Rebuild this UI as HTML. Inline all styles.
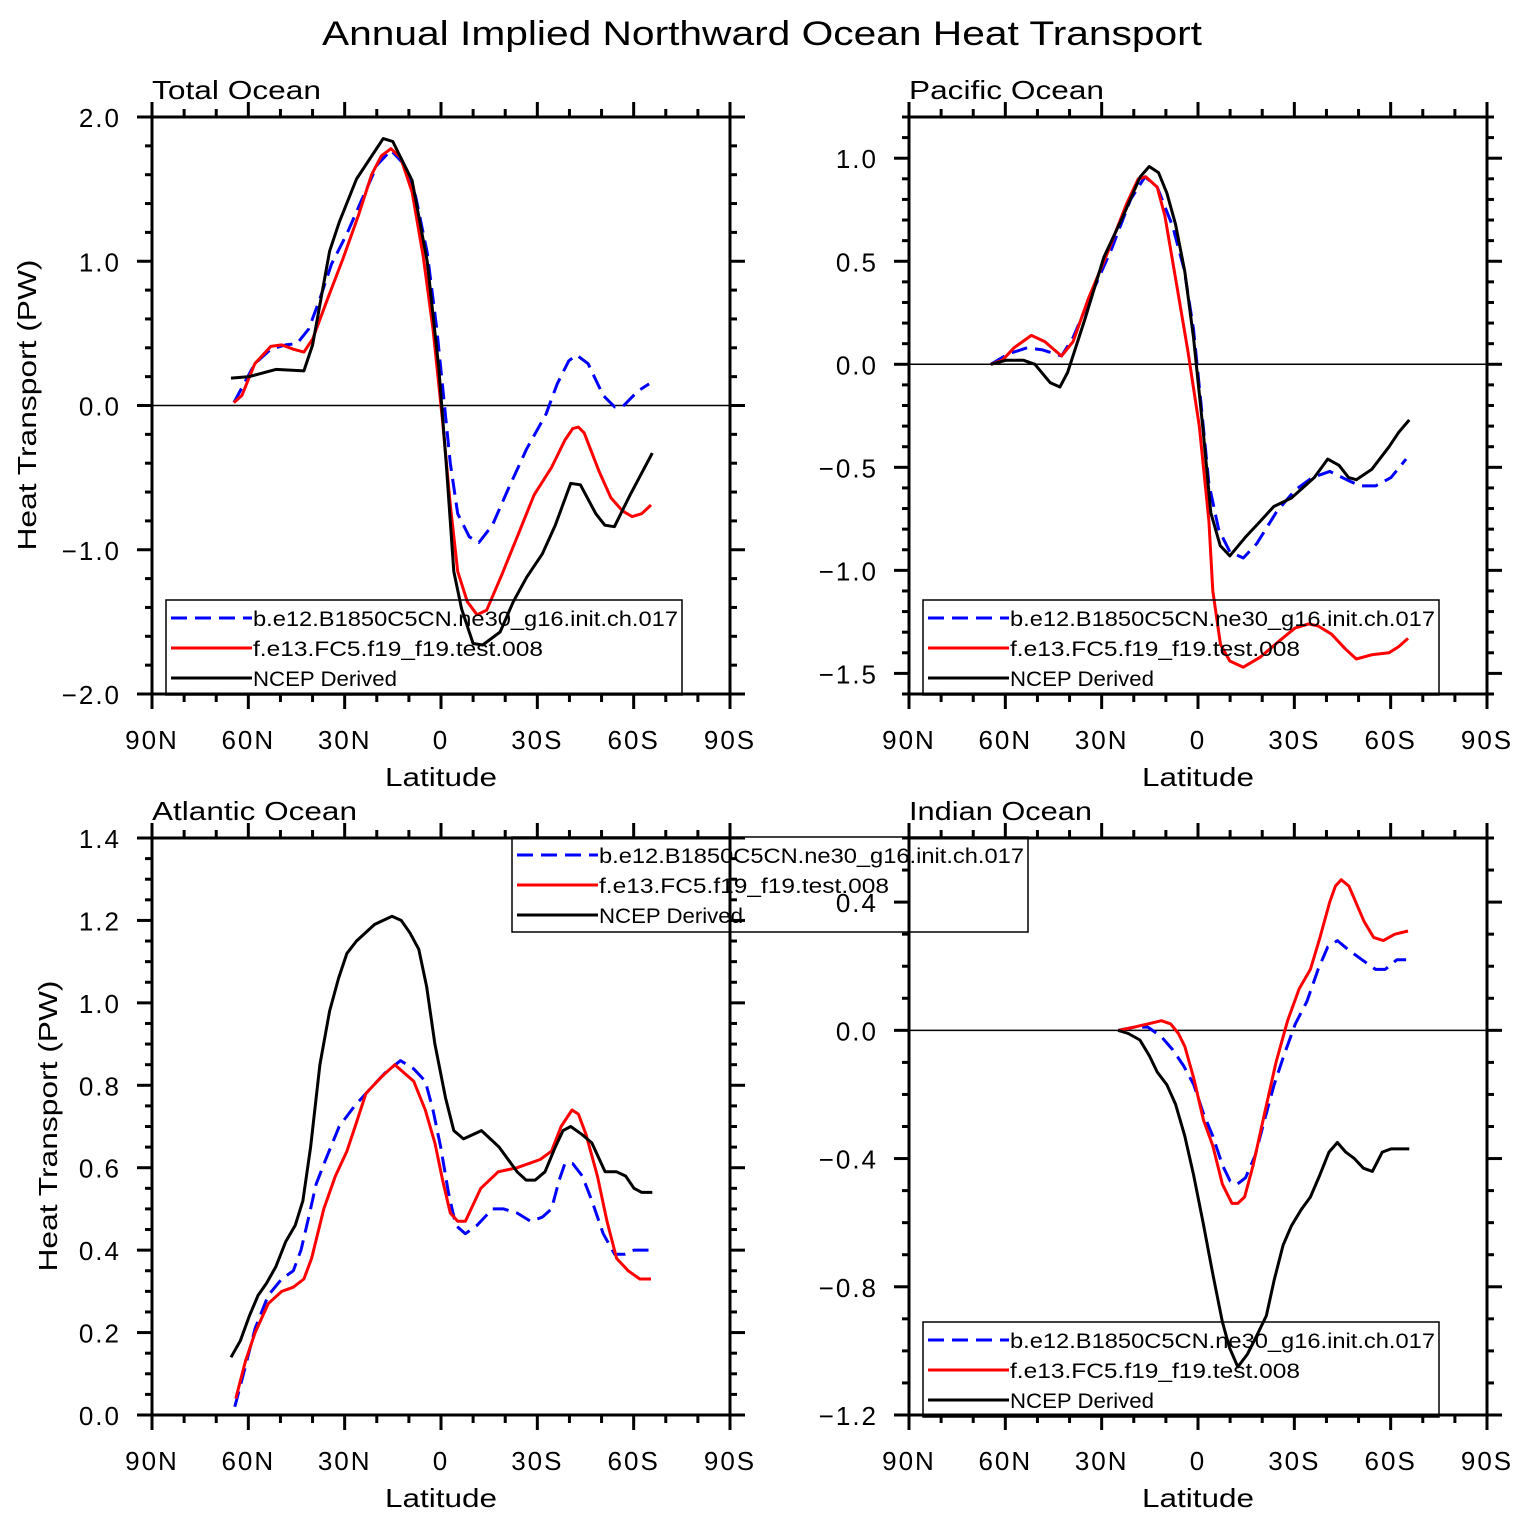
<!DOCTYPE html>
<html><head><meta charset="utf-8"><style>
html,body{margin:0;padding:0;background:#fff}
svg{display:block;font-family:"Liberation Sans",sans-serif}
</style></head><body>
<svg id="chart" width="1524" height="1527" viewBox="0 0 1524 1527" xmlns="http://www.w3.org/2000/svg">
<rect width="1524" height="1527" fill="#fff"/>
<text x="322" y="45" font-size="34" textLength="880" lengthAdjust="spacingAndGlyphs">Annual  Implied  Northward  Ocean  Heat  Transport</text>
</svg>
<script>
// ---------- data ----------
const xTickLabels = ["90N","60N","30N","0","30S","60S","90S"];
const xTickLats = [90,60,30,0,-30,-60,-90];
const seriesNames = ["b.e12.B1850C5CN.ne30_g16.init.ch.017","f.e13.FC5.f19_f19.test.008","NCEP  Derived"];

// Total Ocean
const totBlueLat = [64.5,58,53,48.4,44.8,41.2,37.7,34.1,29.3,24.6,19.8,15.6,11.4,7.9,4.3,1.3,-1.1,-2.9,-5.2,-8.8,-11.8,-16,-20.7,-26.7,-32.7,-36.2,-39.8,-42.2,-45.8,-50.5,-54.1,-56.5,-61.3,-64.8];
const totBlueVal = [0.02,0.29,0.39,0.42,0.43,0.53,0.74,0.98,1.19,1.43,1.67,1.77,1.67,1.45,1.06,0.53,0,-0.4,-0.75,-0.91,-0.95,-0.83,-0.59,-0.30,-0.06,0.15,0.31,0.35,0.29,0.07,-0.01,-0.01,0.10,0.15];
const totRedLat = [64.5,62,58,53,49.6,46,42.7,40,35.3,30.5,25.7,21.6,18.6,15.6,12.6,9,5.5,2.5,-0.5,-2.9,-5.2,-8.2,-11.2,-14.2,-19,-24.3,-29,-34.4,-38.6,-41,-42.8,-44.6,-49.3,-52.9,-56.5,-59.5,-62.5,-65.4];
const totRedVal = [0.02,0.07,0.29,0.41,0.42,0.39,0.37,0.46,0.74,1.02,1.32,1.6,1.73,1.78,1.72,1.48,1.03,0.53,-0.11,-0.69,-1.15,-1.36,-1.45,-1.42,-1.17,-0.88,-0.62,-0.43,-0.24,-0.16,-0.15,-0.19,-0.46,-0.64,-0.73,-0.77,-0.75,-0.69];
const totBlackLat = [65.4,59.7,51.4,42.7,40,34.7,31.7,26.3,18,15,9,4.3,0.7,-1.7,-4,-6.4,-10,-13,-18.4,-22.5,-26.7,-31.5,-35.6,-40.4,-43.4,-48.2,-51,-54,-58.9,-65.8];
const totBlackVal = [0.19,0.20,0.25,0.24,0.42,1.07,1.27,1.57,1.85,1.83,1.56,1.0,0.26,-0.43,-1.15,-1.41,-1.65,-1.66,-1.57,-1.36,-1.19,-1.03,-0.83,-0.54,-0.55,-0.75,-0.83,-0.84,-0.62,-0.33];

// Pacific Ocean
const pacBlueLat = [64.5,59.2,53.2,48.4,42.5,38.9,32.9,26.9,21,16.5,12.7,7.9,4.3,1.4,-1.0,-3.4,-6.4,-9.9,-14.1,-18.3,-24.3,-30.2,-35.6,-41,-46.3,-50.5,-55.3,-60.1,-64.8];
const pacBlueVal = [0,0.05,0.08,0.07,0.04,0.13,0.35,0.56,0.80,0.91,0.86,0.67,0.46,0.17,-0.20,-0.58,-0.80,-0.91,-0.94,-0.87,-0.72,-0.61,-0.55,-0.52,-0.56,-0.59,-0.59,-0.55,-0.46];
const pacRedLat = [64.5,60.9,57.3,51.9,47.7,42.5,38.9,34.1,28.2,22.2,18.6,16.3,12.7,10.3,6.7,3.2,-0.4,-3.4,-4.6,-7,-9.9,-14.1,-19.5,-25.5,-30.2,-34.4,-37.4,-41.6,-45.8,-49.3,-54.1,-59.5,-62.5,-65.4];
const pacRedVal = [0,0.02,0.08,0.14,0.11,0.04,0.11,0.32,0.54,0.78,0.90,0.91,0.86,0.72,0.39,0.07,-0.30,-0.76,-1.10,-1.36,-1.44,-1.47,-1.42,-1.34,-1.28,-1.26,-1.27,-1.31,-1.38,-1.43,-1.41,-1.40,-1.37,-1.33];
const pacBlackLat = [64.5,59.7,54.4,50.8,46,43,40.6,35.2,29.3,23.3,18,15.2,12.3,9.7,7,4.1,1.4,-1.6,-4,-6.9,-9.9,-14.7,-18.9,-23.6,-29,-36.2,-40.4,-43.9,-46.9,-49.3,-54.1,-59.5,-62.5,-65.8];
const pacBlackVal = [0,0.02,0.02,0,-0.09,-0.11,-0.04,0.22,0.52,0.72,0.91,0.96,0.93,0.83,0.68,0.45,0.13,-0.32,-0.72,-0.88,-0.93,-0.84,-0.77,-0.69,-0.65,-0.55,-0.46,-0.49,-0.55,-0.56,-0.51,-0.40,-0.33,-0.27];

// Atlantic Ocean
const atlBlueLat = [64.2,61.5,57.9,53.8,49.6,46,43.6,41.2,38.9,35.9,31.7,26.9,22.2,17.4,12.6,8.5,4.9,2.5,0.1,-2.3,-4.6,-7.6,-11.2,-16,-19.5,-23.7,-27.9,-31.5,-34.4,-36.8,-38.6,-41,-44,-47,-50.5,-54.1,-57.1,-60.1,-64.8];
const atlBlueVal = [0.02,0.10,0.21,0.29,0.33,0.35,0.40,0.48,0.56,0.62,0.70,0.75,0.79,0.83,0.86,0.84,0.81,0.74,0.65,0.54,0.46,0.44,0.46,0.50,0.50,0.49,0.47,0.48,0.50,0.57,0.61,0.61,0.58,0.52,0.44,0.39,0.39,0.40,0.40];
const atlRedLat = [63.9,60.9,57.9,53.8,49.6,46,42.7,40.3,36.5,32.9,29.3,26.3,23.4,18.6,14.4,8.5,4.9,1.9,-0.5,-2.9,-5.2,-7.6,-12.4,-17.8,-23.7,-30.9,-34.4,-37.4,-40.8,-42.8,-45.2,-48.7,-51.7,-54.7,-58.3,-61.9,-65.4];
const atlRedVal = [0.04,0.13,0.20,0.27,0.30,0.31,0.33,0.38,0.50,0.58,0.64,0.71,0.78,0.82,0.85,0.81,0.74,0.66,0.57,0.49,0.47,0.47,0.55,0.59,0.60,0.62,0.64,0.70,0.74,0.73,0.68,0.58,0.47,0.38,0.35,0.33,0.33];
const atlBlackLat = [65.4,62.5,59.7,57,54.3,51.4,48.4,45.4,43,40.6,37.7,34.7,31.9,29.3,26.3,20.7,15.3,12.4,9.7,6.9,4.5,1.9,-1.4,-4,-7,-12.6,-18.1,-23.7,-26.5,-29.3,-32.4,-35.6,-38,-40.4,-44,-47,-51.1,-54.7,-57.5,-60.1,-62.5,-65.8];
const atlBlackVal = [0.14,0.18,0.24,0.29,0.32,0.36,0.42,0.46,0.52,0.65,0.85,0.98,1.06,1.12,1.15,1.19,1.21,1.20,1.17,1.13,1.04,0.90,0.77,0.69,0.67,0.69,0.65,0.59,0.57,0.57,0.59,0.65,0.69,0.70,0.68,0.66,0.59,0.59,0.58,0.55,0.54,0.54];

// Indian Ocean
const indBlueLat = [24.8,19.8,15.6,11.4,7.9,4.5,1.3,-1.7,-4.6,-7.6,-10,-12.2,-14.8,-17.8,-20.7,-23.7,-26.7,-30.3,-33.9,-37.4,-40.4,-43.4,-47,-51.1,-55.3,-58.3,-61.9,-64.8];
const indBlueVal = [0,0.01,0.01,-0.02,-0.06,-0.11,-0.17,-0.26,-0.33,-0.42,-0.47,-0.48,-0.46,-0.39,-0.28,-0.17,-0.08,0.02,0.09,0.19,0.26,0.28,0.25,0.22,0.19,0.19,0.22,0.22];
const indRedLat = [24.8,19.8,15.6,11.4,8.5,6.1,4.1,1.3,-1.7,-4.6,-7.6,-10.6,-12.4,-14.5,-17.2,-20.7,-24.3,-27.9,-31.5,-35,-38,-41,-42.8,-44.6,-47,-51.7,-54.7,-57.7,-61.3,-65.4];
const indRedVal = [0,0.01,0.02,0.03,0.02,-0.01,-0.05,-0.15,-0.28,-0.36,-0.48,-0.54,-0.54,-0.52,-0.42,-0.26,-0.10,0.03,0.13,0.19,0.29,0.40,0.45,0.47,0.45,0.34,0.29,0.28,0.30,0.31];
const indBlackLat = [24.9,21.7,18.1,15.1,12.7,9.7,7,4.1,1.4,-1.6,-4.6,-7.6,-9.8,-12.4,-15.4,-18.4,-21.3,-23.7,-26.5,-29.1,-32.1,-35,-38,-40.8,-43.4,-46,-48.7,-51.5,-54.3,-57.4,-60.1,-65.8];
const indBlackVal = [0,-0.01,-0.03,-0.08,-0.13,-0.17,-0.23,-0.33,-0.45,-0.60,-0.76,-0.91,-0.99,-1.05,-1.01,-0.95,-0.89,-0.78,-0.67,-0.61,-0.56,-0.52,-0.45,-0.38,-0.35,-0.38,-0.40,-0.43,-0.44,-0.38,-0.37,-0.37];

// y-axis tick labels per panel
const totYTicks = ["\u22122.0","\u22121.0","0.0","1.0","2.0"];
const pacYTicks = ["\u22121.5","\u22121.0","\u22120.5","0.0","0.5","1.0"];
const atlYTicks = ["0.0","0.2","0.4","0.6","0.8","1.0","1.2","1.4"];
const indYTicks = ["\u22121.2","\u22120.8","\u22120.4","0.0","0.4"];

// ---------- drawing ----------
const NS="http://www.w3.org/2000/svg";
const svg=document.getElementById('chart');
function mk(tag,attrs,parent){const e=document.createElementNS(NS,tag);for(const k in attrs)e.setAttribute(k,attrs[k]);(parent||svg).appendChild(e);return e;}

const panels=[
 {key:'total',title:'Total  Ocean',tw:169,x0:152,x1:730,y0:117,y1:694,ymin:-2,ymax:2,major:1,minor:0.2,ticks:totYTicks,ytitle:true,ytx:27,zero:true,
  series:[[totBlueLat,totBlueVal],[totRedLat,totRedVal],[totBlackLat,totBlackVal]],leg:[166,600]},
 {key:'pacific',title:'Pacific  Ocean',tw:195,x0:909,x1:1487,y0:117,y1:694,ymin:-1.6,ymax:1.2,major:0.5,minor:0.1,ticks:pacYTicks,ytitle:false,zero:true,
  series:[[pacBlueLat,pacBlueVal],[pacRedLat,pacRedVal],[pacBlackLat,pacBlackVal]],leg:[923,600]},
 {key:'atlantic',title:'Atlantic  Ocean',tw:205,x0:152,x1:730,y0:838,y1:1415,ymin:0,ymax:1.4,major:0.2,minor:0.05,ticks:atlYTicks,ytitle:true,ytx:48,zero:false,
  series:[[atlBlueLat,atlBlueVal],[atlRedLat,atlRedVal],[atlBlackLat,atlBlackVal]],leg:[512,837]},
 {key:'indian',title:'Indian  Ocean',tw:183,x0:909,x1:1487,y0:838,y1:1415,ymin:-1.2,ymax:0.6,major:0.4,minor:0.1,ticks:indYTicks,ytitle:false,zero:true,
  series:[[indBlueLat,indBlueVal],[indRedLat,indRedVal],[indBlackLat,indBlackVal]],leg:[923,1322]}
];
const colors=['#0000ff','#ff0000','#000000'];
const seriesKeys=['blue-model','red-model','ncep'];
const legW=[425,290,144];

panels.forEach(p=>{
 const g=mk('g',{});
 
 
 const xs=lat=>p.x0+(90-lat)/180*(p.x1-p.x0);
 const ys=v=>p.y1-(v-p.ymin)/(p.ymax-p.ymin)*(p.y1-p.y0);
 const st=mk('text',{x:p.x0,y:p.y0-18,'font-size':26,textLength:p.tw,lengthAdjust:'spacingAndGlyphs'},g);
 st.textContent=p.title;
 
 
 if(p.zero){const z=mk('line',{x1:p.x0,x2:p.x1,y1:ys(0),y2:ys(0),stroke:'#000','stroke-width':1.5},g);
  }
 for(let lat=90;lat>=-90;lat-=10){
  const x=xs(lat),maj=(lat%30===0),L=maj?15:8;
  mk('line',{x1:x,x2:x,y1:p.y0,y2:p.y0-L,stroke:'#000','stroke-width':3},g);
  mk('line',{x1:x,x2:x,y1:p.y1,y2:p.y1+L,stroke:'#000','stroke-width':3},g);
 }
 xTickLabels.forEach((lb,i)=>{const t=mk('text',{x:xs(xTickLats[i]),y:p.y1+55,'font-size':26,'text-anchor':'middle','letter-spacing':'2'},g);t.textContent=lb;
  });
 const n=Math.round((p.ymax-p.ymin)/p.minor);
 for(let i=0;i<=n;i++){
  const v=p.ymin+i*p.minor,y=ys(v);
  const r=v/p.major,maj=Math.abs(r-Math.round(r))<1e-6,L=maj?15:7;
  mk('line',{x1:p.x0,x2:p.x0-L,y1:y,y2:y,stroke:'#000','stroke-width':3},g);
  mk('line',{x1:p.x1,x2:p.x1+L,y1:y,y2:y,stroke:'#000','stroke-width':3},g);
 }
 const first=Math.ceil(p.ymin/p.major-1e-9)*p.major;
 p.ticks.forEach((lb,i)=>{const v=first+i*p.major;const t=mk('text',{x:p.x0-31,y:ys(v)+10,'font-size':26,'text-anchor':'end','letter-spacing':'2'},g);t.textContent=lb;
  });
 const xt=mk('text',{x:(p.x0+p.x1)/2-56,y:p.y1+92,'font-size':26,textLength:112,lengthAdjust:'spacingAndGlyphs'},g);xt.textContent='Latitude';
 
 if(p.ytitle){const cy=(p.y0+p.y1)/2;const yt=mk('text',{x:p.ytx-145,y:p.ytx+9,'font-size':26,textLength:291,lengthAdjust:'spacingAndGlyphs',transform:`rotate(-90 ${p.ytx} ${cy}) translate(0 ${cy-p.ytx})`},g);yt.textContent='Heat  Transport  (PW)';
  }
 p.series.forEach((s,si)=>{
  const d=s[0].map((lat,i)=>(i?'L':'M')+xs(lat).toFixed(1)+' '+ys(s[1][i]).toFixed(1)).join(' ');
  const a={d:d,fill:'none',stroke:colors[si],'stroke-width':3,'stroke-linejoin':'round'};
  if(si===0)a['stroke-dasharray']='16 8';
  const path=mk('path',a,g);
  
  
 });
 const fr=mk('rect',{x:p.x0,y:p.y0,width:p.x1-p.x0,height:p.y1-p.y0,fill:'none',stroke:'#000','stroke-width':3},g);
 
});

panels.forEach(p=>{
 const lx=p.leg[0],ly=p.leg[1];
 const lg=mk('g',{});
 
 
 mk('rect',{x:lx,y:ly,width:516,height:95,fill:'none',stroke:'#000','stroke-width':1.5},lg);
 seriesNames.forEach((nm,i)=>{
  const y=ly+18+i*30;
  const a={x1:lx+5,x2:lx+86,y1:y,y2:y,stroke:colors[i],'stroke-width':3};
  if(i===0)a['stroke-dasharray']='16 8';
  mk('line',a,lg);
  const t=mk('text',{x:lx+87,y:y+8,'font-size':21,textLength:legW[i],lengthAdjust:'spacingAndGlyphs'},lg);
  t.textContent=nm;
  
  
 });
});
</script>
</body></html>
